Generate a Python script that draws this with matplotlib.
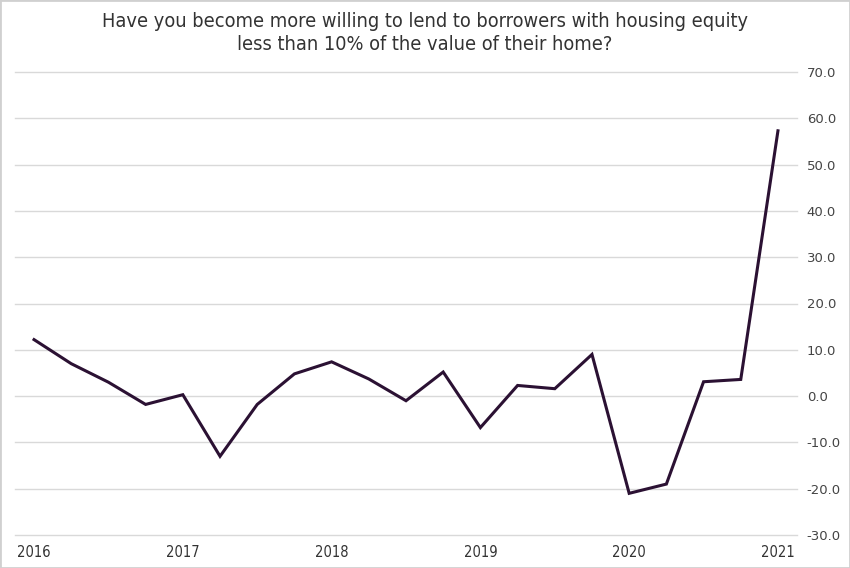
import matplotlib
matplotlib.use("Agg")
import matplotlib.pyplot as plt
from matplotlib.patches import Rectangle

quarters = [2016.0, 2016.25, 2016.5, 2016.75, 2017.0, 2017.25, 2017.5, 2017.75,
            2018.0, 2018.25, 2018.5, 2018.75, 2019.0, 2019.25, 2019.5, 2019.75,
            2020.0, 2020.25, 2020.5, 2020.75, 2021.0]
values = [12.2, 7.0, 3.0, -1.8, 0.3, -13.0, -1.8, 4.8,
          7.4, 3.7, -1.0, 5.2, -6.8, 2.3, 1.6, 9.0,
          -21.0, -19.0, 3.1, 3.6, 57.3]
year_ticks = [2016, 2017, 2018, 2019, 2020, 2021]
year_labels = ["2016", "2017", "2018", "2019", "2020", "2021"]
y_ticks = [-30, -20, -10, 0, 10, 20, 30, 40, 50, 60, 70]

title = "Have you become more willing to lend to borrowers with housing equity\nless than 10% of the value of their home?"

fig = plt.figure(figsize=(8.5, 5.68), dpi=100)
ax = fig.add_axes([15/850, 1-535/568, 782/850, 463/568])

for y in y_ticks:
    ax.axhline(y, color="#d9d9d9", lw=1.0, zorder=1, clip_on=False)

ax.plot(quarters, values, color="#2b1133", lw=2.2, solid_joinstyle="miter", zorder=3)

ax.set_xlim(2016 - 0.128, 2021 + 0.128)
ax.set_ylim(-30, 70)
ax.set_xticks(year_ticks)
ax.set_xticklabels(year_labels, family="DejaVu Sans", stretch="condensed", fontsize=10.5, color="#333333")
ax.set_yticks(y_ticks)
ax.set_yticklabels([f"{v:.1f}" for v in y_ticks], fontsize=9.5, color="#444444")
ax.yaxis.tick_right()
ax.tick_params(axis="both", length=0)
ax.tick_params(axis="y", pad=7)
ax.tick_params(axis="x", pad=7)
for s in ax.spines.values():
    s.set_visible(False)

fig.text(0.5, 1-33/568, title, ha="center", va="center", fontsize=14.3,
         family="DejaVu Sans", stretch="condensed", color="#333333", linespacing=1.3)

fig.patches.append(Rectangle((0, 0), 1, 1, transform=fig.transFigure, fill=False,
                             edgecolor="#d0d0d0", lw=2, zorder=10))

fig.savefig("out.png", dpi=100)
